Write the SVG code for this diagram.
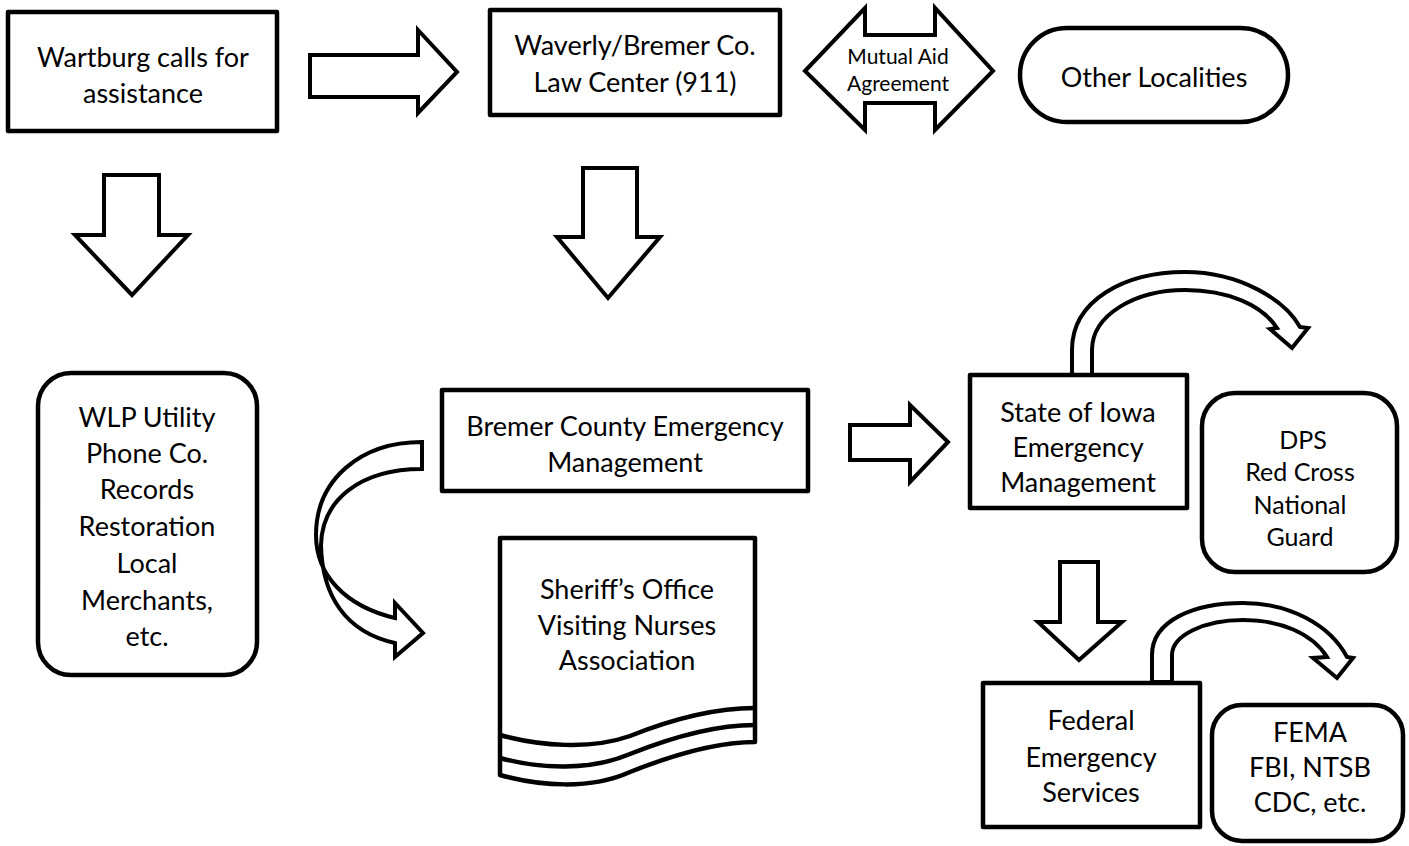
<svg xmlns="http://www.w3.org/2000/svg" width="1409" height="846" viewBox="0 0 1409 846">
<style>
.box{fill:#fff;stroke:#000;stroke-width:4.5;stroke-linejoin:round}
.arr{fill:#fff;stroke:#000;stroke-width:4;stroke-linejoin:miter}
.ln{fill:none;stroke:#000;stroke-width:4.5}
text{font-family:Lato,"Liberation Sans",sans-serif;font-size:27px;fill:#000;text-anchor:middle}
.sm{font-size:21px}
.md{font-size:25px}
</style>
<rect width="1409" height="846" fill="#fff"/>
<g id="connectors">
<polygon class="arr" points="310,55 418,55 418,30 457,72 418,113 418,97 310,97"/>
<polygon class="arr" points="104,175 159,175 159,235 188,235 132,295 75,235 104,235"/>
<polygon class="arr" points="583,168 637,168 637,237 660,237 608,298 557,237 583,237"/>
<polygon class="arr" points="850,425 910,425 910,405 948,442 910,482 910,460 850,460"/>
<polygon class="arr" points="1060,562 1098,562 1098,622 1122,622 1079,660 1038,622 1060,622"/>
<g id="mutual-aid">
<polygon class="arr" points="805,71 865,8 865,35 935,35 935,8 993,71 935,130 935,103 865,103 865,130"/>
<text class="sm" x="898" y="64">Mutual Aid</text>
<text class="sm" x="898" y="91">Agreement</text>
</g>
<path class="arr" d="M422,442 C360,442 316,480 316,535 C316,575 345,606 395,618 L395,603 L423,633 L395,657 L395,643 C345,632 322,595 321,545 C322,500 360,469 422,469 Z"/>
<path class="arr" d="M1072,375 L1072,350 C1072,300 1125,272 1185,272 C1240,272 1285,300 1300,327 L1308,328 L1292,348 L1270,329 L1277,328 C1262,305 1228,290 1185,290 C1135,290 1092,315 1092,350 L1092,375 Z"/>
<path class="arr" d="M1152,682 L1152,655 C1152,620 1195,603 1243,603 C1290,603 1330,625 1347,657 L1353,658 L1337,678 L1313,658 L1327,657 C1312,633 1280,620 1243,620 C1205,620 1172,635 1172,655 L1172,682 Z"/>
</g>
<g id="wartburg">
<rect class="box" x="8" y="12" width="269" height="119"/>
<text x="143" y="67">Wartburg calls for</text>
<text x="143" y="103">assistance</text>
</g>
<g id="waverly">
<rect class="box" x="490" y="10" width="290" height="105"/>
<text x="635" y="55">Waverly/Bremer Co.</text>
<text x="635" y="92">Law Center (911)</text>
</g>
<g id="other">
<rect class="box" x="1020" y="28" width="268" height="94" rx="47"/>
<text x="1154" y="87">Other Localities</text>
</g>
<g id="wlp">
<rect class="box" x="38" y="373" width="219" height="302" rx="33"/>
<text x="147" y="427">WLP Utility</text>
<text x="147" y="463">Phone Co.</text>
<text x="147" y="499">Records</text>
<text x="147" y="536">Restoration</text>
<text x="147" y="573">Local</text>
<text x="147" y="610">Merchants,</text>
<text x="147" y="646">etc.</text>
</g>
<g id="bremer">
<rect class="box" x="442" y="390" width="366" height="101"/>
<text x="625" y="436">Bremer County Emergency</text>
<text x="625" y="472">Management</text>
</g>
<g id="sheriff">
<path class="box" d="M500,538 H755 V742 C720,742 680,752 630,772 C590,790 540,786 500,775 Z"/>
<path class="ln" d="M500,735 C540,746 590,750 630,736 C680,716 720,708 755,708"/>
<path class="ln" d="M500,758 C540,769 590,771 630,754 C680,734 720,725 755,725"/>
<text x="627" y="599">Sheriff’s Office</text>
<text x="627" y="635">Visiting Nurses</text>
<text x="627" y="670">Association</text>
</g>
<g id="state">
<rect class="box" x="970" y="375" width="217" height="133"/>
<text x="1078" y="422">State of Iowa</text>
<text x="1078" y="457">Emergency</text>
<text x="1078" y="492">Management</text>
</g>
<g id="dps">
<rect class="box" x="1202" y="393" width="195" height="179" rx="33"/>
<text class="md" x="1303" y="449">DPS</text>
<text class="md" x="1300" y="481">Red Cross</text>
<text class="md" x="1300" y="514">National</text>
<text class="md" x="1300" y="546">Guard</text>
</g>
<g id="federal">
<rect class="box" x="983" y="683" width="217" height="144"/>
<text x="1091" y="730">Federal</text>
<text x="1091" y="767">Emergency</text>
<text x="1091" y="802">Services</text>
</g>
<g id="fema">
<rect class="box" x="1212" y="705" width="191" height="136" rx="30"/>
<text x="1310" y="742">FEMA</text>
<text x="1310" y="777">FBI, NTSB</text>
<text x="1310" y="812">CDC, etc.</text>
</g>
</svg>
